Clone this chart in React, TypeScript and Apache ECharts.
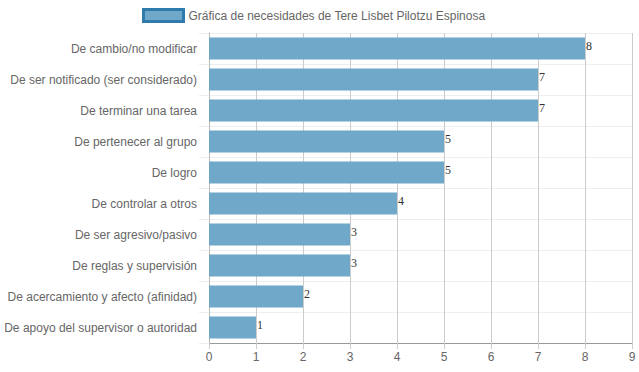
import React, { useEffect, useRef } from "react";
import * as echarts from "echarts";

const categories = [
  "De cambio/no modificar",
  "De ser notificado (ser considerado)",
  "De terminar una tarea",
  "De pertenecer al grupo",
  "De logro",
  "De controlar a otros",
  "De ser agresivo/pasivo",
  "De reglas y supervisión",
  "De acercamiento y afecto (afinidad)",
  "De apoyo del supervisor o autoridad",
];
const values = [8, 7, 7, 5, 5, 4, 3, 3, 2, 1];
const seriesName = "Gráfica de necesidades de Tere Lisbet Pilotzu Espinosa";

export default function App() {
  const ref = useRef<HTMLDivElement>(null);
  useEffect(() => {
    if (!ref.current) return;
    const chart = echarts.init(ref.current, null, { renderer: "svg" });
    const font = "'Liberation Sans', Arial, sans-serif";
    chart.setOption({
      animation: false,
      textStyle: { fontFamily: font },
      legend: {
        left: 137,
        top: 3,
        itemWidth: 40,
        itemHeight: 12,
        itemGap: 6,
        icon: "rect",
        textStyle: { color: "#666", fontSize: 12, fontFamily: font },
        data: [{ name: seriesName, itemStyle: { color: "#6fa8c8", borderColor: "#2f7bab", borderWidth: 3 } }],
      },
      grid: { left: 209, right: 7, top: 33, bottom: 29, containLabel: false },
      xAxis: {
        type: "value",
        min: 0,
        max: 9,
        interval: 1,
        axisLine: { show: true, lineStyle: { color: "#999" } },
        axisTick: { show: true, length: 6, lineStyle: { color: "#ccc" } },
        axisLabel: { color: "#666", fontSize: 12, fontFamily: font, margin: 8 },
        splitLine: { show: true, lineStyle: { color: "#ccc" } },
      },
      yAxis: {
        type: "category",
        inverse: true,
        data: categories,
        axisLine: { show: true, lineStyle: { color: "#bbb" } },
        axisTick: { show: true, length: 10, lineStyle: { color: "#eee" } },
        axisLabel: { color: "#666", fontSize: 12, fontFamily: font, margin: 12 },
        splitLine: { show: true, lineStyle: { color: "#eee" } },
      },
      series: [
        {
          name: seriesName,
          type: "bar",
          data: values,
          barCategoryGap: "29%",
          itemStyle: { color: "#6fa8c8" },
          label: {
            show: true,
            position: "right",
            distance: 1,
            offset: [0, -3],
            color: "#333",
            fontSize: 12,
            fontFamily: "'Liberation Serif', 'Times New Roman', serif",
          },
        },
      ],
    });
    return () => chart.dispose();
  }, []);
  return <div ref={ref} style={{ width: 639, height: 372, position: "absolute", left: 0, top: 0 }} />;
}
